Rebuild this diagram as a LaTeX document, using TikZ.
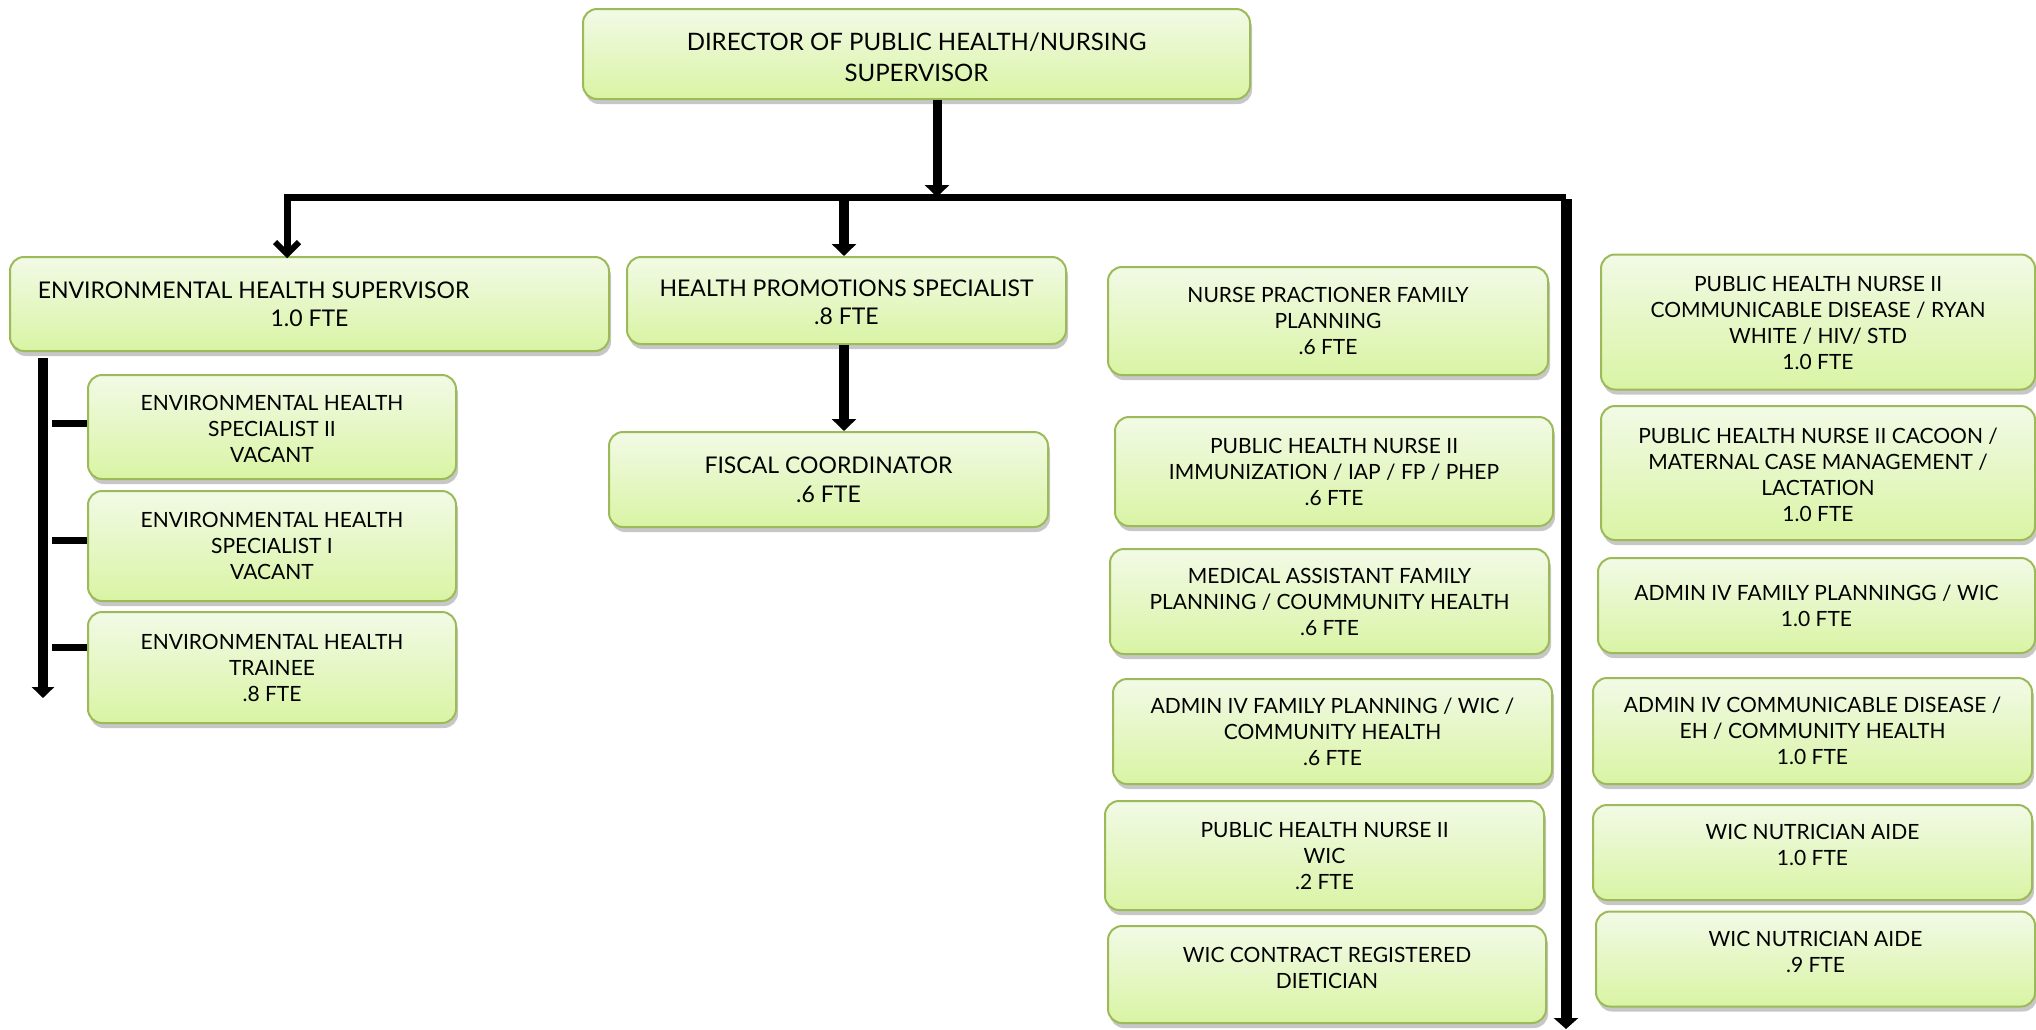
\documentclass[tikz,border=0pt]{standalone}
\usepackage{fontspec}
\setmainfont{Lato}
\usetikzlibrary{arrows.meta,shadows}
\definecolor{boxtop}{HTML}{F2FAE6}
\definecolor{boxbot}{HTML}{D9F4A4}
\definecolor{boxline}{HTML}{9CBB58}
\tikzset{
  box/.style={rounded corners=14pt, draw=boxline, line width=2pt,
    top color=boxtop, bottom color=boxbot,
    drop shadow={shadow xshift=2pt, shadow yshift=-5pt, fill=black, opacity=0.22},
    align=center, inner sep=0pt, text=black,
    font=\fontsize{21}{26}\selectfont},
  txt/.style={align=center, inner sep=0pt, text=black, font=\fontsize{21}{26}\selectfont},
  bigtxt/.style={font=\fontsize{23}{28.5}\selectfont},
  dirtxt/.style={font=\fontsize{24}{31}\selectfont},
  conn/.style={line width=#1, draw=black, line join=miter},
  conn/.default=8pt,
  tip/.style={-{Triangle[width=24pt,length=12pt]}},
  tick/.style={line width=7pt, draw=black},
}
\begin{document}
\begin{tikzpicture}[x=1pt,y=-1pt]
\useasboundingbox (0,0) rectangle (2036,1029);
% boxes
\node[box,dirtxt,minimum width=667pt,minimum height=90pt] (dir) at (916.5,54) {};
\node[txt,dirtxt] (dirt) at (916.5,57) {DIRECTOR OF PUBLIC HEALTH/NURSING\\SUPERVISOR};
\node[box,bigtxt,minimum width=599pt,minimum height=94pt] (ehs) at (309.5,304) {ENVIRONMENTAL HEALTH SUPERVISOR\hspace*{112pt}\\1.0 FTE};
\node[box,bigtxt,minimum width=439pt,minimum height=87pt] (hps) at (846.5,300.5) {};
\node[txt,bigtxt] (hpst) at (846.5,302.5) {HEALTH PROMOTIONS SPECIALIST\\.8 FTE};
\node[box,bigtxt,minimum width=439pt,minimum height=95pt] (fc) at (828.5,479.5) {FISCAL COORDINATOR\\.6 FTE};
\node[box,minimum width=368pt,minimum height=104pt] (eh2) at (272,427) {};
\node[txt] (eh2t) at (272,429) {ENVIRONMENTAL HEALTH\\SPECIALIST II\\VACANT};
\node[box,minimum width=368pt,minimum height=110pt] (eh1) at (272,546) {ENVIRONMENTAL HEALTH\\SPECIALIST I\\VACANT};
\node[box,minimum width=368pt,minimum height=111pt] (eht) at (272,667.5) {ENVIRONMENTAL HEALTH\\TRAINEE\\.8 FTE};
% column 3
\node[box,minimum width=440pt,minimum height=108pt] (np) at (1328,321) {NURSE PRACTIONER FAMILY\\PLANNING\\.6 FTE};
\node[box,minimum width=438pt,minimum height=109pt] (phni) at (1334,471.5) {PUBLIC HEALTH NURSE II\\IMMUNIZATION / IAP / FP / PHEP\\.6 FTE};
\node[box,minimum width=439pt,minimum height=105pt] (ma) at (1329.5,601.5) {MEDICAL ASSISTANT FAMILY\\PLANNING / COUMMUNITY HEALTH\\.6 FTE};
\node[box,minimum width=439pt,minimum height=105pt] (adfp) at (1332.5,731.5) {ADMIN IV FAMILY PLANNING / WIC /\\COMMUNITY HEALTH\\.6 FTE};
\node[box,minimum width=439pt,minimum height=109pt] (phnw) at (1324.5,855.5) {PUBLIC HEALTH NURSE II\\WIC\\.2 FTE};
\node[box,minimum width=438pt,minimum height=97pt] (rd) at (1327,974.5) {};
\node[txt] (rdt) at (1327,968) {WIC CONTRACT REGISTERED\\DIETICIAN};
% column 4
\node[box,minimum width=434pt,minimum height=135pt] (cd) at (1818,322) {};
\node[txt] (cdt) at (1818,323) {PUBLIC HEALTH NURSE II\\COMMUNICABLE DISEASE / RYAN\\WHITE / HIV/ STD\\1.0 FTE};
\node[box,minimum width=434pt,minimum height=134pt] (cac) at (1818,473) {};
\node[txt] (cact) at (1818,475) {PUBLIC HEALTH NURSE II CACOON /\\MATERNAL CASE MANAGEMENT /\\LACTATION\\1.0 FTE};
\node[box,minimum width=437pt,minimum height=95pt] (afw) at (1816.5,605.5) {ADMIN IV FAMILY PLANNINGG / WIC\\1.0 FTE};
\node[box,minimum width=439pt,minimum height=106pt] (acd) at (1812.5,731) {ADMIN IV COMMUNICABLE DISEASE /\\EH / COMMUNITY HEALTH\\1.0 FTE};
\node[box,minimum width=439pt,minimum height=95pt] (wa1) at (1812.5,852.5) {};
\node[txt] (wa1t) at (1812.5,845) {WIC NUTRICIAN AIDE\\1.0 FTE};
\node[box,minimum width=439pt,minimum height=95pt] (wa9) at (1815.5,959) {};
\node[txt] (wa9t) at (1815.5,952) {WIC NUTRICIAN AIDE\\.9 FTE};
% connector coordinates
\coordinate (busL) at (287,197);
\coordinate (busR) at (1566,197);
\coordinate (busD) at (937,197);
\coordinate (busH) at (844,197);
\coordinate (endR) at (1566,1029);
\coordinate (spT) at (43,358);
\coordinate (spB) at (43,698);
\coordinate (t1) at (52,423);
\coordinate (t2) at (52,540);
\coordinate (t3) at (52,647);
% connectors
\draw[conn=9pt, tip] (dir.south -| busD) -- (busD);
\draw[conn=7pt] (busR) -- (busL) -- ([yshift=3pt]busL |- ehs.north);
\draw[line width=6pt, line cap=butt, line join=miter] ([xshift=-12pt,yshift=14pt]busL |- ehs.north) -- ([yshift=2pt]busL |- ehs.north) -- ([xshift=12pt,yshift=14pt]busL |- ehs.north);
\draw[conn=11pt, -{Triangle[width=24pt,length=11pt]}] ([yshift=-2pt]busR) -- (endR);
\draw[conn=10pt, tip] (busH) -- (hps.north -| busH);
\draw[conn=10pt, tip] (hps.south -| busH) -- (fc.north -| busH);
\draw[conn=10pt, -{Triangle[width=22pt,length=11pt]}] (spT) -- (spB);
\draw[tick] (t1) -- (eh2.west |- t1);
\draw[tick] (t2) -- (eh1.west |- t2);
\draw[tick] (t3) -- (eht.west |- t3);
\end{tikzpicture}
\end{document}
